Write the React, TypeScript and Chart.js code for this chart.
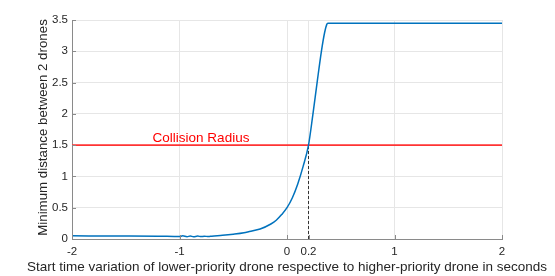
import React, { useEffect, useRef } from "react";
import { Chart, registerables } from "chart.js";

Chart.register(...registerables);

const xTicks = [-2, -1, 0, 0.2, 1, 2];
const yTicks = [0, 0.5, 1, 1.5, 2, 2.5, 3, 3.5];

const distX = [-2, -1.5, -1.2, -1.0, -0.97, -0.93, -0.9, -0.87, -0.83, -0.8, -0.77, -0.73, -0.7, -0.6, -0.5, -0.4, -0.35, -0.25, -0.15, -0.1, -0.05, 0, 0.05, 0.1, 0.15, 0.2, 0.24, 0.28, 0.32, 0.35, 0.37, 0.38, 2];
const distY = [0.05, 0.048, 0.045, 0.04, 0.05, 0.037, 0.047, 0.037, 0.046, 0.038, 0.045, 0.039, 0.045, 0.058, 0.076, 0.1, 0.12, 0.16, 0.24, 0.3, 0.39, 0.5, 0.66, 0.88, 1.16, 1.5, 1.98, 2.5, 3.0, 3.3, 3.43, 3.45, 3.45];

const radiusX = [-2, 2];
const radiusY = [1.5, 1.5];

const markerX = [0.2, 0.2];
const markerY = [0, 1.5];

const radiusLabel = "Collision Radius";
const radiusLabelX = -0.8;
const xTitle = "Start time variation of lower-priority drone respective to higher-priority drone in seconds";
const yTitle = "Minimum distance between 2 drones";

const FONT = "'Liberation Sans', Arial, Helvetica, sans-serif";

const decorPlugin = {
  id: "decor",
  afterDraw(chart: any) {
    const ctx = chart.ctx;
    const xs = chart.scales.x;
    const ys = chart.scales.y;
    const area = chart.chartArea;
    ctx.save();
    ctx.strokeStyle = "#8a8a8a";
    ctx.lineWidth = 1;
    ctx.beginPath();
    xTicks.forEach((t) => {
      const px = Math.round(xs.getPixelForValue(t)) + 0.5;
      ctx.moveTo(px, area.bottom);
      ctx.lineTo(px, area.bottom - 4);
    });
    yTicks.forEach((t) => {
      const py = Math.round(ys.getPixelForValue(t)) + 0.5;
      ctx.moveTo(area.left, py);
      ctx.lineTo(area.left + 4, py);
    });
    ctx.stroke();
    ctx.fillStyle = "#ff0000";
    ctx.font = `13.5px ${FONT}`;
    ctx.textAlign = "center";
    ctx.textBaseline = "alphabetic";
    ctx.fillText(radiusLabel, xs.getPixelForValue(radiusLabelX), ys.getPixelForValue(1.5) - 3);

    ctx.fillStyle = "#262626";
    ctx.font = `13.5px ${FONT}`;
    ctx.textBaseline = "middle";
    ctx.fillText(xTitle, (area.left + area.right) / 2, 267);

    ctx.font = `13.3px ${FONT}`;
    ctx.translate(43.5, 127.5);
    ctx.rotate(-Math.PI / 2);
    ctx.fillText(yTitle, 0, 0);
    ctx.restore();
  },
};

export default function App() {
  const ref = useRef<HTMLCanvasElement | null>(null);
  useEffect(() => {
    if (!ref.current) return;
    const chart = new Chart(ref.current, {
      type: "line",
      data: {
        datasets: [
          {
            data: markerX.map((x, i) => ({ x, y: markerY[i] })),
            borderColor: "#333333",
            borderWidth: 1,
            borderDash: [3, 2],
            pointRadius: 0,
            order: 3,
          },
          {
            data: radiusX.map((x, i) => ({ x, y: radiusY[i] })),
            borderColor: "#ff3333",
            borderWidth: 1.8,
            pointRadius: 0,
            order: 2,
          },
          {
            data: distX.map((x, i) => ({ x, y: distY[i] })),
            borderColor: "#0072bd",
            borderWidth: 1.5,
            pointRadius: 0,
            cubicInterpolationMode: "monotone",
            order: 1,
          },
        ],
      },
      options: {
        animation: false,
        responsive: false,
        layout: { padding: { top: 20, right: 53, left: 0, bottom: 0 } },
        plugins: { legend: { display: false }, tooltip: { enabled: false } },
        scales: {
          x: {
            type: "linear",
            min: -2,
            max: 2,
            afterBuildTicks: (s: any) => {
              s.ticks = xTicks.map((v) => ({ value: v }));
            },
            afterFit: (s: any) => {
              s.height = 37;
            },
            grid: { color: "#e6e6e6", drawTicks: false },
            border: { color: "#8a8a8a" },
            ticks: {
              padding: 6,
              color: "#262626",
              font: { family: FONT, size: 11.5 },
              maxRotation: 0,
              autoSkip: false,
              callback: (v: any) => String(v),
            },
          },
          y: {
            type: "linear",
            min: 0,
            max: 3.5,
            afterBuildTicks: (s: any) => {
              s.ticks = yTicks.map((v) => ({ value: v }));
            },
            afterFit: (s: any) => {
              s.width = 72;
            },
            grid: { color: "#e6e6e6", drawTicks: false },
            border: { color: "#8a8a8a" },
            ticks: {
              padding: 4,
              color: "#262626",
              font: { family: FONT, size: 11.5 },
              autoSkip: false,
              callback: (v: any) => String(v),
            },
          },
        },
      },
      plugins: [decorPlugin],
    } as any);
    return () => chart.destroy();
  }, []);
  return (
    <div style={{ position: "fixed", left: 0, top: 0, width: 555, height: 276, background: "#fff" }}>
      <canvas ref={ref} width={555} height={276} style={{ width: 555, height: 276, display: "block" }} />
    </div>
  );
}
